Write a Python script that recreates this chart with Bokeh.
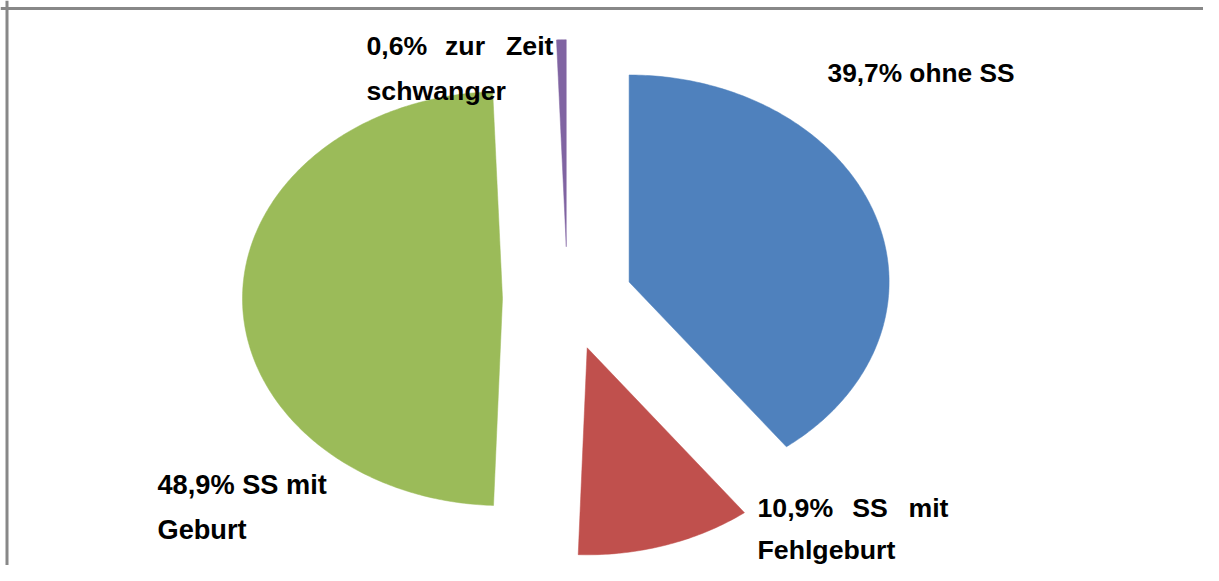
import numpy as np
from bokeh.plotting import figure
from bokeh.models import Span
from bokeh.core.properties import value
from bokeh.embed import file_html
from bokeh.resources import INLINE

# ---- data ----
categories = ["ohne SS", "SS mit Fehlgeburt", "SS mit Geburt", "zur Zeit schwanger"]
percent = [39.7, 10.9, 48.9, 0.6]
colors = ["#4F81BD", "#C0504D", "#9BBB59", "#8064A2"]
explode = 0.25

# ---- geometry (pixel mapping of the unit pie, canvas pixels) ----
CX, CY, RX, RY = 567.0, 298.0, 260.0, 207.0
W, H = 1203, 565

def dx(px):
    return (px - CX) / RX

def dy(py):
    return (CY - py) / RY

p = figure(width=W, height=H, output_backend="svg", toolbar_location=None,
           x_range=(dx(0), dx(W)), y_range=(dy(H), dy(0)),
           min_border=0, outline_line_color=None)
p.axis.visible = False
p.grid.visible = False
p.background_fill_color = "white"
p.border_fill_color = "white"

total = sum(percent)
xs, ys = [], []
start = np.pi / 2
for v in percent:
    sweep = 2 * np.pi * v / total
    end = start - sweep
    mid = (start + end) / 2
    ox, oy = explode * np.cos(mid), explode * np.sin(mid)
    t = np.linspace(start, end, max(8, int(abs(sweep) * 80)))
    xs.append([ox] + list(ox + np.cos(t)))
    ys.append([oy] + list(oy + np.sin(t)))
    start = end

p.patches(xs, ys, fill_color=colors, line_color=colors, line_width=0.5)

# ---- labels ----
font = value("Liberation Sans")
YOFF = -9  # compensation for rendered baseline offset
def txt(x, y, s, align="left", size="26.7px"):
    p.text(x=[dx(x)], y=[dy(y + YOFF)], text=[s], text_font=font, text_font_style="bold",
           text_font_size=size, text_color="black", text_align=align,
           text_baseline="alphabetic")

# 39,7% ohne SS
txt(827, 81, "39,7% ohne SS", size="26.3px")
# 10,9% SS mit Fehlgeburt (justified first line)
txt(757, 516, "10,9%")
txt(869.5, 516, "SS", "center")
txt(948, 516, "mit", "right")
txt(757, 558, "Fehlgeburt")
# 48,9% SS mit Geburt
txt(157, 493, "48,9% SS mit", size="27.2px")
txt(157, 538, "Geburt", size="27.2px")
# 0,6% zur Zeit schwanger (justified first line)
txt(366, 54, "0,6%")
txt(464.5, 54, "zur", "center")
txt(553, 54, "Zeit", "right")
txt(366, 99, "schwanger")

# ---- frame lines (top and left) ----
p.add_layout(Span(location=dy(8), dimension="width", line_color="#888888", line_width=3))
p.add_layout(Span(location=dx(6.5), dimension="height", line_color="#888888", line_width=3))

open("out.html", "w").write(file_html(p, INLINE))
